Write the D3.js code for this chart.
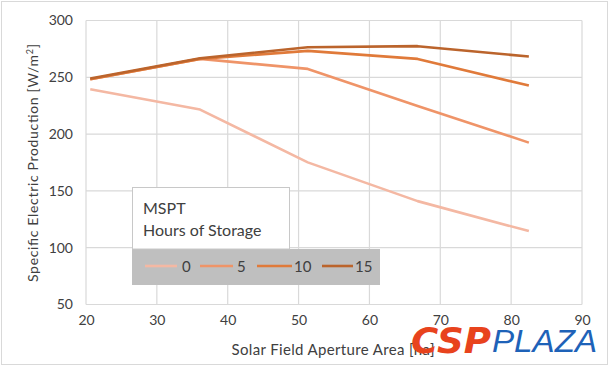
<!DOCTYPE html>
<html><head><meta charset="utf-8">
<script src="https://cdn.jsdelivr.net/npm/d3@7"></script>
<style>body{margin:0;background:#fff;}svg{display:block;font-family:Lato,"Open Sans",sans-serif;}</style>
</head><body>
<script>
const xValues = [20.6, 36.1, 51.3, 66.8, 82.5];
const seriesNames = ["0", "5", "10", "15"];
const series0 = [239.5, 221.6, 175.1, 141.0, 114.6];
const series5 = [248.3, 266.2, 257.4, 224.8, 192.5];
const series10 = [248.3, 266.2, 273.3, 266.2, 242.7];
const series15 = [248.9, 266.8, 276.5, 277.4, 268.3];
const colors = ["#f4b8a3", "#ef9468", "#e07a3a", "#bb642c"];
const xTicks = [20, 30, 40, 50, 60, 70, 80, 90];
const yTicks = [50, 100, 150, 200, 250, 300];

const W = 610, H = 367;
const svg = d3.select("body").append("svg").attr("width", W).attr("height", H);
svg.append("rect").attr("x", 1.5).attr("y", 1.5).attr("width", W - 4).attr("height", H - 4)
  .attr("fill", "#fff").attr("stroke", "#d9d9d9");

const x = d3.scaleLinear().domain([20, 90]).range([86, 582]);
const y = d3.scaleLinear().domain([50, 300]).range([304.5, 20.5]);

// gridlines
svg.append("g").selectAll("line").data(xTicks).join("line")
  .attr("x1", d => x(d)).attr("x2", d => x(d)).attr("y1", y(50)).attr("y2", y(300))
  .attr("stroke", "#d9d9d9").attr("stroke-width", 1.2);
svg.append("g").selectAll("line").data(yTicks).join("line")
  .attr("x1", x(20)).attr("x2", x(90)).attr("y1", d => y(d)).attr("y2", d => y(d))
  .attr("stroke", "#d9d9d9").attr("stroke-width", 1.2);

// axes
const xAxis = svg.append("g").attr("transform", `translate(0,${y(50)})`)
  .call(d3.axisBottom(x).tickValues(xTicks).tickSize(0).tickPadding(11));
const yAxis = svg.append("g").attr("transform", `translate(${x(20)},0)`)
  .call(d3.axisLeft(y).tickValues(yTicks).tickSize(0).tickPadding(13));
[xAxis, yAxis].forEach(a => {
  a.select(".domain").remove();
  a.selectAll("text").attr("font-size", 14).attr("fill", "#404040").attr("font-family", "Lato, sans-serif");
});

svg.append("text").attr("transform", "translate(38,163) rotate(-90)").attr("text-anchor", "middle")
  .attr("font-size", 14).attr("fill", "#404040").attr("textLength", 238).attr("lengthAdjust", "spacing")
  .html('Specific Electric Production [W/m<tspan dy="-5" font-size="9">2</tspan><tspan dy="5">]</tspan>');
svg.append("text").attr("x", 333).attr("y", 355).attr("text-anchor", "middle")
  .attr("font-size", 15).attr("fill", "#404040").attr("textLength", 203).attr("lengthAdjust", "spacing")
  .text("Solar Field Aperture Area [ha]");

// lines
const allSeries = [series0, series5, series10, series15];
const line = d3.line().x((d, i) => x(xValues[i])).y(d => y(d));
svg.append("g").selectAll("path").data(allSeries).join("path")
  .attr("d", d => line(d)).attr("fill", "none")
  .attr("stroke", (d, i) => colors[i]).attr("stroke-width", 2.6).attr("stroke-linejoin", "round");

// legend
const lg = svg.append("g");
lg.append("rect").attr("x", 132).attr("y", 249).attr("width", 248).attr("height", 36).attr("fill", "#bfbfbf");
lg.append("rect").attr("x", 132.5).attr("y", 187.5).attr("width", 157).attr("height", 61.5)
  .attr("fill", "#fff").attr("stroke", "#c8c8c8");
lg.append("text").attr("x", 143).attr("y", 214).attr("font-size", 16).attr("fill", "#404040").text("MSPT");
lg.append("text").attr("x", 143).attr("y", 236).attr("font-size", 16).attr("fill", "#404040").text("Hours of Storage");
const legX = [[145, 177, 182], [200, 233, 237], [257, 292, 294], [322, 353, 355]];
seriesNames.forEach((n, i) => {
  lg.append("line").attr("x1", legX[i][0]).attr("x2", legX[i][1]).attr("y1", 266).attr("y2", 266)
    .attr("stroke", colors[i]).attr("stroke-width", 2.6);
  lg.append("text").attr("x", legX[i][2]).attr("y", 271.5).attr("font-size", 15).attr("fill", "#404040").text(n);
});

// watermark logo
svg.append("text").attr("x", 411).attr("y", 353).attr("font-size", 36).attr("font-weight", 900)
  .attr("font-style", "italic").attr("fill", "#e8431d").attr("font-family", "'DejaVu Sans', sans-serif")
  .attr("textLength", 80).attr("lengthAdjust", "spacingAndGlyphs").text("CSP");
svg.append("text").attr("x", 492).attr("y", 352).attr("font-size", 31).attr("font-weight", 300)
  .attr("font-style", "italic").attr("fill", "#1e62b8").attr("font-family", "'Liberation Sans', sans-serif")
  .attr("textLength", 105).attr("lengthAdjust", "spacingAndGlyphs").text("PLAZA");
</script>
</body></html>
